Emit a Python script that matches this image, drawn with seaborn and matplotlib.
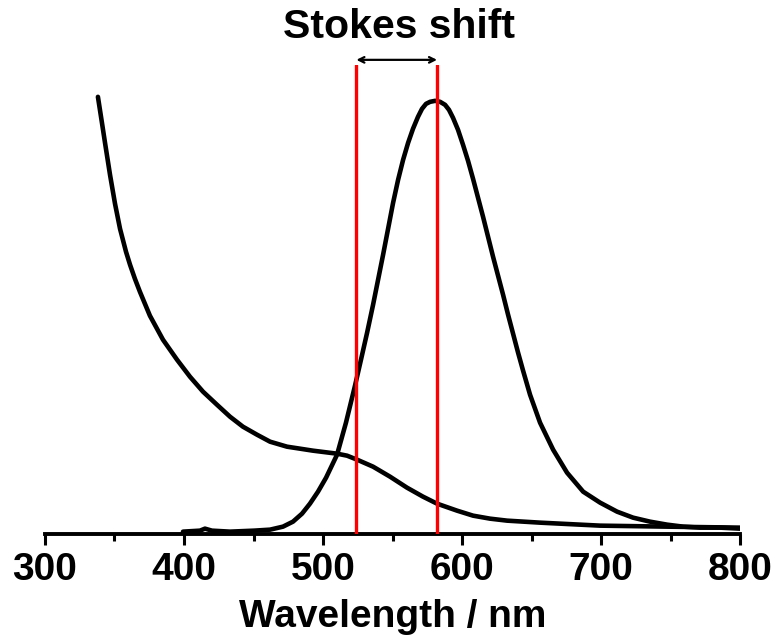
import numpy as np
import pandas as pd
import matplotlib
matplotlib.use("Agg")
import matplotlib.pyplot as plt
from matplotlib.ticker import MultipleLocator
import seaborn as sns

# absorption spectrum (arbitrary units)
abs_wl = [338.1, 341.0, 343.2, 346.8, 350.4, 354.0, 358.3, 361.2, 364.7, 368.3,
          375.5, 384.9, 395.0, 404.3, 413.7, 423.7, 433.1, 442.4, 452.5, 461.9,
          474.1, 483.5, 492.8, 510.1, 517.3, 524.5, 536.0, 548.2, 560.4, 571.9,
          582.0, 596.4, 607.9, 620.1, 632.4, 656.1, 699.3, 747.5, 800.0]
abs_int = [436, 410, 390, 358, 329, 304, 281, 268, 254, 241,
           217, 193, 173, 156, 141, 128, 116, 106, 98, 91,
           86, 84, 82, 79, 77, 73, 66, 56, 45, 36,
           29, 22, 17, 14, 12, 10, 7, 6, 5]

# emission spectrum (arbitrary units)
em_wl = [399.3, 411.5, 415.1, 420.1, 433.1, 450.4, 461.9, 471.2, 478.4, 484.9,
         490.6, 496.4, 502.2, 510.1, 516.5, 523.0, 527.3, 531.7, 536.0, 539.6,
         543.2, 546.8, 550.4, 554.0, 557.6, 561.2, 564.7, 568.3, 571.2, 574.1,
         577.0, 580.6, 584.2, 587.8, 590.6, 593.5, 597.1, 600.7, 604.3, 607.9,
         611.5, 615.1, 618.7, 622.3, 625.9, 629.5, 633.1, 636.7, 640.3, 643.9,
         648.9, 656.1, 665.5, 675.5, 687.1, 699.3, 711.5, 723.0, 735.2, 747.5,
         759.0, 771.2, 785.6, 800.0]
em_int = [1, 2, 4, 2, 1, 2, 3, 6, 11, 19,
          29, 41, 55, 78, 110, 147, 173, 200, 228, 253,
          278, 304, 330, 353, 373, 390, 404, 416, 424, 429,
          431, 432, 431, 428, 423, 415, 403, 388, 372, 354,
          335, 316, 296, 276, 257, 238, 218, 199, 180, 162,
          138, 110, 83, 60, 41, 30, 21, 15, 11, 8,
          6, 5, 5, 4]

# absorption / emission positions marking the Stokes shift
stokes_wl = [524, 582]
stokes_label = "Stokes shift"

sns.set_style("white")
plt.rcParams["font.family"] = ["Liberation Sans", "DejaVu Sans"]
plt.rcParams["font.weight"] = "bold"
plt.rcParams["text.color"] = "black"
plt.rcParams["axes.labelcolor"] = "black"
plt.rcParams["xtick.color"] = "black"

fig = plt.figure(figsize=(7.75, 6.42), dpi=100)
ax = fig.add_axes([0.058, 0.168, 0.897, 0.731])

abs_df = pd.DataFrame({"wl": abs_wl, "I": abs_int})
em_df = pd.DataFrame({"wl": em_wl, "I": em_int})
sns.lineplot(data=abs_df, x="wl", y="I", ax=ax, color="black", lw=3.3, sort=False)
sns.lineplot(data=em_df, x="wl", y="I", ax=ax, color="black", lw=3.3, sort=False)

for w in stokes_wl:
    ax.axvline(w, color="red", lw=2.4, zorder=5)

ax.set_xlim(300, 800)
ax.set_ylim(-1.5, 468)

# double arrow + label above the plot
ax.annotate("", xy=(stokes_wl[0], 473), xytext=(stokes_wl[1], 473),
            arrowprops=dict(arrowstyle="<->", color="black", lw=1.6,
                            shrinkA=0, shrinkB=0),
            annotation_clip=False)
ax.text(sum(stokes_wl) / 2 + 2, 506, stokes_label, ha="center", va="center",
        fontsize=29.5, fontweight="bold", color="black", clip_on=False)

for s in ["left", "right", "top"]:
    ax.spines[s].set_visible(False)
ax.spines["bottom"].set_linewidth(2.8)
ax.spines["bottom"].set_color("black")

ax.xaxis.set_major_locator(MultipleLocator(100))
ax.xaxis.set_minor_locator(MultipleLocator(50))
ax.tick_params(axis="x", which="major", direction="out", length=8, width=2.2,
               labelsize=28, pad=5, bottom=True, colors="black")
ax.tick_params(axis="x", which="minor", direction="out", length=5, width=2.2,
               bottom=True, colors="black")
ax.set_yticks([])
for lab in ax.get_xticklabels():
    lab.set_fontweight("bold")

ax.set_xlabel("Wavelength / nm", fontsize=28, fontweight="bold", labelpad=8)
ax.set_ylabel("")

fig.savefig("out.png", dpi=100)
